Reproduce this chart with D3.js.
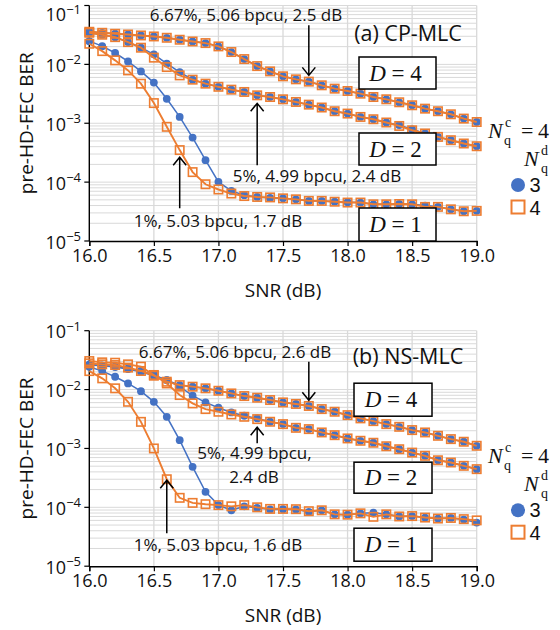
<!DOCTYPE html>
<html>
<head>
<meta charset="utf-8">
<script src="https://cdn.jsdelivr.net/npm/d3@7"></script>
<style>
  body { margin: 0; background: #fff; }
  svg { display: block; }
</style>
</head>
<body>
<svg id="chart"></svg>
<script>
// SNR grid (dB)
const snr = [16.0, 16.1, 16.2, 16.3, 16.4, 16.5, 16.6, 16.7, 16.8, 16.9,
             17.0, 17.1, 17.2, 17.3, 17.4, 17.5, 17.6, 17.7, 17.8, 17.9,
             18.0, 18.1, 18.2, 18.3, 18.4, 18.5, 18.6, 18.7, 18.8, 18.9, 19.0];

// (a) CP-MLC, pre-HD-FEC BER
const cpD1N3 = [2.48e-2, 2.04e-2, 1.56e-2, 1.12e-2, 7.6e-3, 4.9e-3, 2.6e-3, 1.28e-3, 5.7e-4, 2.36e-4,
                1.01e-4, 7.1e-5, 6.0e-5, 5.6e-5, 5.4e-5, 5.3e-5, 5.1e-5, 4.8e-5, 4.8e-5, 4.65e-5,
                4.55e-5, 4.5e-5, 4.2e-5, 4.2e-5, 4.25e-5, 4.2e-5, 4.0e-5, 3.8e-5, 3.45e-5, 3.2e-5, 3.25e-5];
const cpD1N4 = [2.24e-2, 1.68e-2, 1.17e-2, 7.9e-3, 4.7e-3, 2.2e-3, 8.7e-4, 3.5e-4, 1.48e-4, 9.2e-5,
                7.5e-5, 6.4e-5, 5.8e-5, 5.6e-5, 5.5e-5, 5.3e-5, 5.1e-5, 4.8e-5, 4.8e-5, 4.65e-5,
                4.5e-5, 4.5e-5, 4.2e-5, 4.2e-5, 4.25e-5, 4.2e-5, 3.8e-5, 3.8e-5, 3.45e-5, 3.2e-5, 3.25e-5];
const cpD2N3 = [3.44e-2, 3.19e-2, 2.9e-2, 2.39e-2, 1.92e-2, 1.48e-2, 1.03e-2, 7.4e-3, 5.5e-3, 4.71e-3,
                4.16e-3, 3.72e-3, 3.4e-3, 2.98e-3, 2.79e-3, 2.55e-3, 2.3e-3, 2.07e-3, 1.85e-3, 1.6e-3,
                1.46e-3, 1.28e-3, 1.17e-3, 1.03e-3, 9.3e-4, 7.9e-4, 6.7e-4, 5.86e-4, 5.15e-4, 4.53e-4, 4.07e-4];
const cpD2N4 = [3.44e-2, 3.19e-2, 2.9e-2, 2.39e-2, 1.92e-2, 1.3e-2, 9.0e-3, 6.5e-3, 5.5e-3, 4.71e-3,
                4.16e-3, 3.72e-3, 3.4e-3, 2.98e-3, 2.79e-3, 2.55e-3, 2.3e-3, 2.07e-3, 1.85e-3, 1.6e-3,
                1.46e-3, 1.28e-3, 1.17e-3, 1.03e-3, 9.0e-4, 7.6e-4, 6.7e-4, 5.86e-4, 5.15e-4, 4.53e-4, 4.07e-4];
const cpD4N3 = [3.58e-2, 3.44e-2, 3.31e-2, 3.22e-2, 3.1e-2, 2.98e-2, 2.83e-2, 2.62e-2, 2.45e-2, 2.3e-2,
                2.02e-2, 1.62e-2, 1.23e-2, 9.35e-3, 7.6e-3, 6.27e-3, 5.57e-3, 5.09e-3, 4.41e-3, 3.87e-3,
                3.53e-3, 3.18e-3, 2.79e-3, 2.55e-3, 2.27e-3, 2.02e-3, 1.77e-3, 1.6e-3, 1.42e-3, 1.2e-3, 1.05e-3];
const cpD4N4 = [3.58e-2, 3.44e-2, 3.31e-2, 3.22e-2, 3.1e-2, 2.98e-2, 2.83e-2, 2.62e-2, 2.45e-2, 2.3e-2,
                2.02e-2, 1.62e-2, 1.23e-2, 9.35e-3, 7.6e-3, 6.27e-3, 5.57e-3, 5.09e-3, 4.41e-3, 3.87e-3,
                3.53e-3, 3.18e-3, 2.79e-3, 2.55e-3, 2.27e-3, 2.02e-3, 1.77e-3, 1.6e-3, 1.42e-3, 1.2e-3, 1.05e-3];

// (b) NS-MLC, pre-HD-FEC BER
const nsD1N3 = [2.44e-2, 2.06e-2, 1.65e-2, 1.27e-2, 9.4e-3, 6.2e-3, 3.45e-3, 1.38e-3, 4.87e-4, 1.83e-4,
                1.09e-4, 8.9e-5, 1.04e-4, 9.8e-5, 9.2e-5, 9.3e-5, 9.2e-5, 8.4e-5, 8.9e-5, 7.6e-5,
                7.5e-5, 7.9e-5, 8.1e-5, 7.6e-5, 7.0e-5, 7.1e-5, 6.7e-5, 6.45e-5, 6.6e-5, 6.2e-5, 5.5e-5];
const nsD1N4 = [2.06e-2, 1.55e-2, 1.05e-2, 6.2e-3, 2.83e-3, 1.0e-3, 3.0e-4, 1.45e-4, 1.19e-4, 1.13e-4,
                1.09e-4, 1.04e-4, 1.09e-4, 1.0e-4, 9.4e-5, 9.4e-5, 9.3e-5, 8.6e-5, 8.9e-5, 7.6e-5,
                7.5e-5, 7.9e-5, 6.9e-5, 7.6e-5, 7.0e-5, 7.1e-5, 6.7e-5, 6.45e-5, 6.6e-5, 6.3e-5, 6.0e-5];
const nsD2N3 = [2.68e-2, 2.54e-2, 2.41e-2, 2.23e-2, 2.01e-2, 1.72e-2, 1.45e-2, 1.12e-2, 7.86e-3, 6.05e-3,
                4.91e-3, 4.09e-3, 3.59e-3, 3.24e-3, 2.84e-3, 2.59e-3, 2.24e-3, 2.13e-3, 1.87e-3, 1.68e-3,
                1.48e-3, 1.35e-3, 1.25e-3, 1.09e-3, 9.7e-4, 8.5e-4, 7.5e-4, 6.3e-4, 5.77e-4, 5.07e-4, 4.45e-4];
const nsD2N4 = [3.05e-2, 2.9e-2, 2.86e-2, 2.68e-2, 2.45e-2, 1.77e-2, 1.27e-2, 8.07e-3, 5.82e-3, 4.66e-3,
                4.2e-3, 3.78e-3, 3.45e-3, 3.15e-3, 2.84e-3, 2.59e-3, 2.24e-3, 2.13e-3, 1.87e-3, 1.68e-3,
                1.48e-3, 1.35e-3, 1.25e-3, 1.09e-3, 9.7e-4, 8.5e-4, 7.5e-4, 6.3e-4, 5.77e-4, 5.07e-4, 4.45e-4];
const nsD4N3 = [2.61e-2, 2.54e-2, 2.48e-2, 2.29e-2, 2.07e-2, 1.77e-2, 1.45e-2, 1.19e-2, 1.12e-2, 1.05e-2,
                9.55e-3, 8.6e-3, 7.76e-3, 7.27e-3, 6.64e-3, 6.05e-3, 5.7e-3, 5.27e-3, 4.66e-3, 4.2e-3,
                3.68e-3, 3.24e-3, 2.91e-3, 2.59e-3, 2.33e-3, 2.05e-3, 1.87e-3, 1.64e-3, 1.44e-3, 1.3e-3, 1.11e-3];
const nsD4N4 = [2.79e-2, 2.68e-2, 2.61e-2, 2.36e-2, 2.07e-2, 1.72e-2, 1.36e-2, 1.19e-2, 1.12e-2, 1.05e-2,
                9.55e-3, 8.6e-3, 7.76e-3, 7.27e-3, 6.64e-3, 6.05e-3, 5.7e-3, 5.27e-3, 4.66e-3, 4.2e-3,
                3.68e-3, 3.24e-3, 2.91e-3, 2.59e-3, 2.33e-3, 2.05e-3, 1.87e-3, 1.64e-3, 1.44e-3, 1.3e-3, 1.11e-3];

const xTicks = [16.0, 16.5, 17.0, 17.5, 18.0, 18.5, 19.0];
const yExps = [-1, -2, -3, -4, -5];
const legendLabels = ["3", "4"];

const width = 560, height = 630;
const blue = "#4472c4", orange = "#ed7d31", grid = "#d9d9d9";
const sans = "'Open Sans', 'Noto Sans', sans-serif";
const serif = "'Liberation Serif', 'DejaVu Serif', serif";

const svg = d3.select("#chart").attr("width", width).attr("height", height);

const x = d3.scaleLinear().domain([16, 19]).range([89.3, 476.7]);
const y = d3.scaleLog().domain([1e-5, 1e-1]).range([241, 5.5]);

const panels = [
  {
    offset: 0, title: "(a) CP-MLC", topShift: 8,
    n3: [cpD1N3, cpD2N3, cpD4N3], n4: [cpD1N4, cpD2N4, cpD4N4],
    boxes: [{ t: "4", x: 359, y: 57, w: 77, h: 32 }, { t: "2", x: 359, y: 133, w: 77, h: 32 }, { t: "1", x: 359, y: 208, w: 77, h: 33 }],
    notes: [{ t: "6.67%, 5.06 bpcu, 2.5 dB", cx: 246, cy: 15 },
            { t: "5%, 4.99 bpcu, 2.4 dB", cx: 317, cy: 176 },
            { t: "1%, 5.03 bpcu, 1.7 dB", cx: 218, cy: 221 }],
    arrows: [{ s: 17.7, from: 4.6e-2, to: 6.5e-3 }, { s: 17.3, from: 1.94e-4, to: 2.18e-3 }, { s: 16.7, from: 3.6e-5, to: 2.65e-4 }]
  },
  {
    offset: 325.2, title: "(b) NS-MLC", topShift: 0,
    n3: [nsD1N3, nsD2N3, nsD4N3], n4: [nsD1N4, nsD2N4, nsD4N4],
    boxes: [{ t: "4", x: 354, y: 58, w: 78, h: 33 }, { t: "2", x: 354, y: 137, w: 78, h: 31 }, { t: "1", x: 354, y: 203, w: 78, h: 33 }],
    notes: [{ t: "6.67%, 5.06 bpcu, 2.6 dB", cx: 235, cy: 26.5 },
            { t: "5%, 4.99 bpcu,", cx: 254.5, cy: 128 },
            { t: "2.4 dB", cx: 254, cy: 151.5 },
            { t: "1%, 5.03 bpcu, 1.6 dB", cx: 218, cy: 220 }],
    arrows: [{ s: 17.7, from: 2.97e-2, to: 6.6e-3 }, { s: 17.3, from: 1.23e-3, to: 2.3e-3 }, { s: 16.6, from: 3.63e-5, to: 2.89e-4 }]
  }
];

const line = d3.line().x((d, i) => x(snr[i])).y(d => y(d));

function arrowPath(s, from, to) {
  const x0 = x(s), y0 = y(from), y1 = y(to);
  const dir = y1 > y0 ? -1 : 1;
  return `M${x0},${y0}L${x0},${y1}M${x0 - 6.5},${y1 + dir * 8}L${x0},${y1}L${x0 + 6.5},${y1 + dir * 8}`;
}

panels.forEach(p => {
  const g = svg.append("g").attr("transform", `translate(0,${p.offset})`);

  // grid
  g.append("g").selectAll("line").data(y.ticks().filter(v => v > 1.01e-5))
    .join("line")
    .attr("x1", x(16)).attr("x2", x(19))
    .attr("y1", d => y(d)).attr("y2", d => y(d))
    .attr("stroke", grid).attr("stroke-width", 1);
  g.append("g").selectAll("line").data(xTicks.slice(1))
    .join("line")
    .attr("x1", d => x(d)).attr("x2", d => x(d))
    .attr("y1", y(1e-1)).attr("y2", y(1e-5))
    .attr("stroke", grid).attr("stroke-width", 1.3);

  // axes
  const xa = g.append("g").attr("transform", `translate(0,${y(1e-5)})`)
    .call(d3.axisBottom(x).tickValues(xTicks).tickFormat(d3.format(".1f")).tickSize(5).tickPadding(3));
  xa.select(".domain").attr("stroke", "#000").attr("stroke-width", 1.4);
  xa.selectAll(".tick line").attr("stroke", "#000").attr("stroke-width", 1.2);
  xa.selectAll("text").attr("font-family", sans).attr("font-size", 18).attr("fill", "#111");

  g.append("line").attr("x1", x(16)).attr("x2", x(16)).attr("y1", y(1e-1)).attr("y2", y(1e-5))
    .attr("stroke", "#000").attr("stroke-width", 1.4);
  g.append("g").selectAll("line").data(yExps).join("line")
    .attr("x1", x(16) - 5).attr("x2", x(16))
    .attr("y1", d => y(Math.pow(10, d))).attr("y2", d => y(Math.pow(10, d)))
    .attr("stroke", "#000").attr("stroke-width", 1.2);
  const yl = g.append("g").selectAll("text").data(yExps).join("text")
    .attr("x", 81)
    .attr("y", d => y(Math.pow(10, d)) + 7.5 + (d === -1 ? p.topShift : 0))
    .attr("text-anchor", "end").attr("font-family", sans).attr("font-size", 18).attr("fill", "#111");
  yl.append("tspan").text("10");
  yl.append("tspan").attr("dy", -7.5).attr("font-size", 13).text(d => "\u2212" + (-d));

  g.append("text")
    .attr("transform", `translate(33,${(y(1e-1) + y(1e-5)) / 2}) rotate(-90)`)
    .attr("text-anchor", "middle").attr("font-family", sans).attr("font-size", 19).attr("fill", "#111")
    .text("pre-HD-FEC BER");
  g.append("text").attr("x", (x(16) + x(19)) / 2).attr("y", 297)
    .attr("text-anchor", "middle").attr("font-family", sans).attr("font-size", 19).attr("fill", "#111")
    .text("SNR (dB)");

  // series: blue circles first, orange squares on top
  p.n3.forEach(s => {
    g.append("path").datum(s).attr("d", line).attr("fill", "none").attr("stroke", blue).attr("stroke-width", 1.5);
    g.append("g").selectAll("circle").data(s).join("circle")
      .attr("cx", (d, i) => x(snr[i])).attr("cy", d => y(d)).attr("r", 3.9).attr("fill", blue);
  });
  p.n4.forEach(s => {
    g.append("path").datum(s).attr("d", line).attr("fill", "none").attr("stroke", orange).attr("stroke-width", 1.9);
    g.append("g").selectAll("rect").data(s).join("rect")
      .attr("x", (d, i) => x(snr[i]) - 4.2).attr("y", d => y(d) - 4.2).attr("width", 8.4).attr("height", 8.4)
      .attr("fill", "none").attr("stroke", orange).attr("stroke-width", 1.6);
  });

  // title
  g.append("text").attr("x", 408).attr("y", 33 + 7.8 - (p.offset ? 1.5 : 0))
    .attr("text-anchor", "middle").attr("font-family", sans).attr("font-size", 21.5).attr("fill", "#111")
    .text(p.title);

  // D boxes
  p.boxes.forEach(b => {
    g.append("rect").attr("x", b.x).attr("y", b.y).attr("width", b.w).attr("height", b.h)
      .attr("fill", "#fff").attr("stroke", "#000").attr("stroke-width", 1.5);
    const t = g.append("text").attr("x", b.x + b.w / 2 - 2).attr("y", b.y + b.h / 2 + 7.5)
      .attr("text-anchor", "middle").attr("font-family", serif).attr("font-size", 23).attr("fill", "#111");
    t.append("tspan").attr("font-style", "italic").text("D");
    t.append("tspan").text(" = " + b.t);
  });

  // annotations
  p.notes.forEach(n => {
    g.append("text").attr("x", n.cx).attr("y", n.cy + 6)
      .attr("text-anchor", "middle").attr("font-family", sans).attr("font-size", 17).attr("fill", "#111")
      .text(n.t);
  });
  p.arrows.forEach(a => {
    g.append("path").attr("d", arrowPath(a.s, a.from, a.to))
      .attr("fill", "none").attr("stroke", "#000").attr("stroke-width", 1.5);
  });

  // legend
  const lg = g.append("g").attr("font-family", serif).attr("fill", "#111");
  lg.append("text").attr("x", 488).attr("y", 138).attr("font-size", 22).attr("font-style", "italic").text("N");
  lg.append("text").attr("x", 505).attr("y", 127).attr("font-size", 14).text("c");
  lg.append("text").attr("x", 504).attr("y", 145).attr("font-size", 14).text("q");
  lg.append("text").attr("x", 521).attr("y", 138).attr("font-size", 22).text("=");
  lg.append("text").attr("x", 538).attr("y", 138).attr("font-size", 22).text("4");
  lg.append("text").attr("x", 524).attr("y", 166).attr("font-size", 22).attr("font-style", "italic").text("N");
  lg.append("text").attr("x", 541).attr("y", 155).attr("font-size", 14).text("d");
  lg.append("text").attr("x", 541).attr("y", 172.5).attr("font-size", 14).text("q");

  g.append("circle").attr("cx", 518).attr("cy", 185).attr("r", 7).attr("fill", blue);
  g.append("rect").attr("x", 511.5).attr("y", 200.5).attr("width", 13).attr("height", 13)
    .attr("fill", "#fff").attr("stroke", orange).attr("stroke-width", 2);
  g.append("g").selectAll("text").data(legendLabels).join("text")
    .attr("x", 529.5).attr("y", (d, i) => 192 + i * 23)
    .attr("font-family", "'Liberation Sans', Arial, sans-serif").attr("font-size", 20).attr("fill", "#111")
    .text(d => d);
});
</script>
</body>
</html>
